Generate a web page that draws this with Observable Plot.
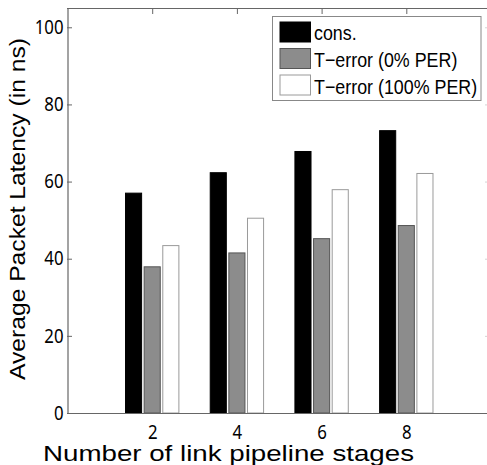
<!DOCTYPE html>
<html>
<head>
<meta charset="utf-8">
<script src="https://cdn.jsdelivr.net/npm/d3@7"></script>
<script src="https://cdn.jsdelivr.net/npm/@observablehq/plot@0.6"></script>
<style>
  html, body { margin: 0; padding: 0; background: #fff; overflow: hidden; }
  #chart { width: 487px; height: 465px; position: relative; overflow: hidden; }
</style>
</head>
<body>
<div id="chart"></div>
<script>
const stages = [2, 4, 6, 8];
const cons = [57.0, 62.3, 67.8, 73.2];
const err0 = [37.9, 41.5, 45.2, 48.6];
const err100 = [43.4, 50.5, 57.9, 62.1];
const seriesNames = ["cons.", "T\u2212error (0% PER)", "T\u2212error (100% PER)"];
const yTicks = [0, 20, 40, 60, 80, 100];
const xTicks = [2, 4, 6, 8];

const fills = ["#000000", "#8c8c8c", "#ffffff"];
const strokes = ["#000000", "#555555", "#9a9a9a"];
const offsets = [-0.44, 0, 0.44];
const halfW = 0.19;

const seriesVals = [cons, err0, err100];
const rows = [];
seriesVals.forEach((vals, s) => {
  vals.forEach((v, i) => rows.push({stage: stages[i], value: v, s}));
});

const font = "'Liberation Sans', Arial, sans-serif";
const axisColor = "#666";

const plot = Plot.plot({
  width: 487,
  height: 465,
  marginLeft: 67,
  marginRight: 0,
  marginTop: 8,
  marginBottom: 52,
  style: {fontFamily: font, fontSize: "19.5px", color: "#000", background: "#fff"},
  x: {domain: [0, 10], range: [67.5, 491], label: null},
  y: {domain: [0, 105], label: null},
  marks: [
    Plot.axisX(xTicks, {anchor: "top", tickSize: -5, tickFormat: () => "", stroke: axisColor}),
    Plot.axisX(xTicks, {anchor: "bottom", tickSize: -5, tickPadding: 17, fontSize: 19.5, stroke: axisColor, fill: "#000"}),
    Plot.axisY(yTicks, {anchor: "left", tickSize: -5, tickPadding: 9, fontSize: 19.5, stroke: axisColor, fill: "#000"}),
    Plot.axisY(yTicks, {anchor: "right", tickSize: -3, tickFormat: () => "", stroke: "#d4d4d4"}),
    Plot.rectY(rows, {
      x1: d => d.stage + offsets[d.s] - halfW,
      x2: d => d.stage + offsets[d.s] + halfW,
      y1: 0,
      y2: "value",
      fill: d => fills[d.s],
      stroke: d => strokes[d.s],
      strokeWidth: 1
    }),
    Plot.ruleY([0], {stroke: axisColor, strokeWidth: 1.2}),
    Plot.ruleY([105], {stroke: axisColor, strokeWidth: 1.2}),
    Plot.ruleX([0], {stroke: axisColor, strokeWidth: 1.2})
  ]
});

const svg = d3.select(plot);
svg.attr("style", null).style("background", "#fff").style("display", "block");
document.getElementById("chart").appendChild(plot);

// condense tick labels like the reference's narrow face
const squeeze = 0.86;
svg.selectAll("g[aria-label='x-axis tick label'] text, g[aria-label='y-axis tick label'] text").each(function() {
  const w = this.getComputedTextLength();
  if (w > 0) { this.setAttribute("textLength", w * squeeze); this.setAttribute("lengthAdjust", "spacingAndGlyphs"); }
});

// axis titles
svg.append("text")
  .attr("x", 228.5).attr("y", 461)
  .attr("text-anchor", "middle")
  .attr("textLength", 371).attr("lengthAdjust", "spacingAndGlyphs")
  .style("font-family", font).style("font-size", "21.5px")
  .attr("fill", "#000")
  .text("Number of link pipeline stages");
svg.append("text")
  .attr("transform", "translate(25,209) rotate(-90)")
  .attr("text-anchor", "middle")
  .attr("textLength", 342).attr("lengthAdjust", "spacingAndGlyphs")
  .style("font-family", font).style("font-size", "22px")
  .attr("fill", "#000")
  .text("Average Packet Latency (in ns)");

// legend
const lg = svg.append("g").attr("text-anchor", "start");
lg.append("rect").attr("x", 272.5).attr("y", 16.5).attr("width", 208.5).attr("height", 84)
  .attr("fill", "#fff").attr("stroke", "#888").attr("stroke-width", 1);
seriesNames.forEach((name, i) => {
  const y0 = 22 + i * 26.5;
  lg.append("rect").attr("x", 280).attr("y", y0).attr("width", 30.5).attr("height", 20)
    .attr("fill", fills[i]).attr("stroke", strokes[i]).attr("stroke-width", 1);
  const t = lg.append("text").attr("x", 314).attr("y", 39.5 + i * 27)
    .attr("text-anchor", "start")
    .style("font-family", font).style("font-size", "21px").attr("fill", "#000")
    .text(name);
  const w = t.node().getComputedTextLength();
  t.attr("textLength", w * 0.85).attr("lengthAdjust", "spacingAndGlyphs");
});
</script>
</body>
</html>
